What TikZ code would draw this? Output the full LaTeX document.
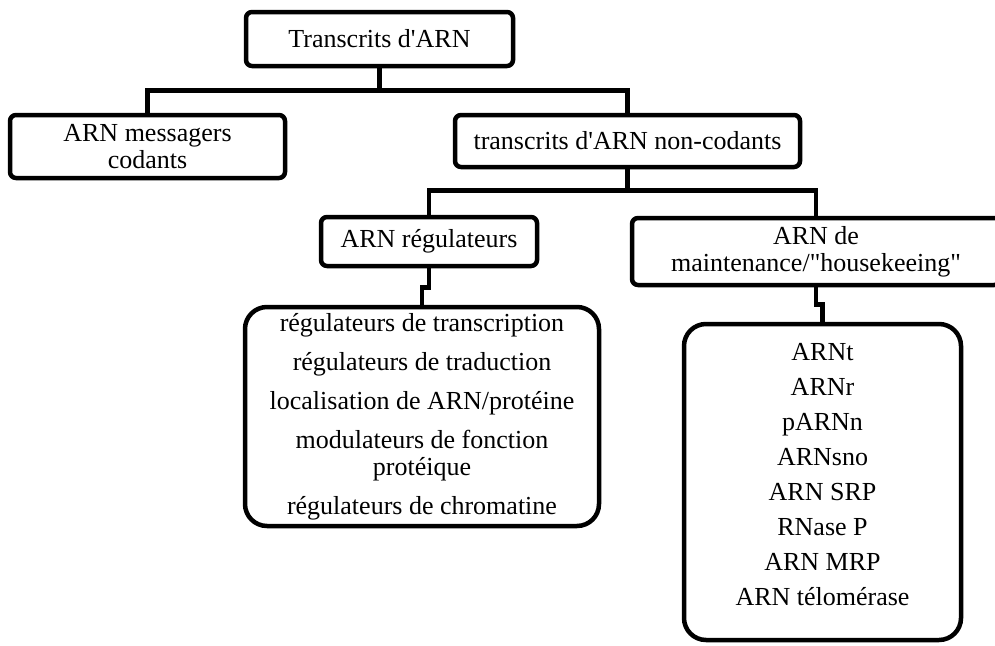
\documentclass[tikz,border=0pt]{standalone}
\usepackage{fontspec}
\setmainfont{Liberation Serif}
\usepackage{tikz}
\tikzset{
    arnbox/.style={draw, line width=4.5pt, rounded corners=6pt, inner sep=2pt, align=center,
      font=\fontsize{26}{27}\selectfont},
    arnlist/.style={arnbox, rounded corners=22pt},
    arnlink/.style={-, line width=4.5pt},
}

\begin{document}
\begin{tikzpicture}[x=1pt,y=-1pt]
  \useasboundingbox (0,0) rectangle (995,645);
  % Level 1: all transcripts
  \node[arnbox, minimum width=267, minimum height=54] (tr) at (379.5,39) {Transcrits d\textquotesingle ARN};
  % Level 2: coding / non-coding
  \node[arnbox, minimum width=275, minimum height=63] (mess) at (147.5,146.5) {ARN messagers\\codants};
  \node[arnbox, minimum width=345, minimum height=52] (nonc) at (627.5,141) {transcrits d\textquotesingle ARN non-codants};
  \draw[arnlink] (tr.south) -- ++(0,22) -| (mess.north);
  \draw[arnlink] (tr.south) -- ++(0,22) -| (nonc.north);
  % Level 3: regulatory / housekeeping
  \node[arnbox, minimum width=216, minimum height=49] (reg) at (429,241.5) {ARN régulateurs};
  \node[arnbox, minimum width=368, minimum height=67] (maint) at (816,251.5)
    {ARN de\\maintenance/\textquotedbl housekeeing\textquotedbl};
  \draw[arnlink] (nonc.south) -- ++(0,21) -| (reg.north);
  \draw[arnlink] (nonc.south) -- ++(0,21) -| (maint.north);
  % Level 4: lists
  \node[arnlist, minimum width=354, minimum height=219] (reglist) at (422,416.5)
    {régulateurs de transcription\\[12pt]régulateurs de traduction\\[12pt]localisation de ARN/protéine\\[12pt]modulateurs de fonction\\protéique\\[12pt]régulateurs de chromatine};
  \node[arnlist, minimum width=277, minimum height=316] (maintlist) at (822.5,482)
    {ARNt\\[8pt]ARNr\\[8pt]pARNn\\[8pt]ARNsno\\[8pt]ARN SRP\\[8pt]RNase P\\[8pt]ARN MRP\\[8pt]ARN télomérase\\[-11pt]\mbox{}};
  \draw[arnlink] (reg.south) -- ++(0,19) -| (reglist.north);
  \draw[arnlink] (maint.south) -- ++(0,17) -| (maintlist.north);
\end{tikzpicture}
\end{document}
